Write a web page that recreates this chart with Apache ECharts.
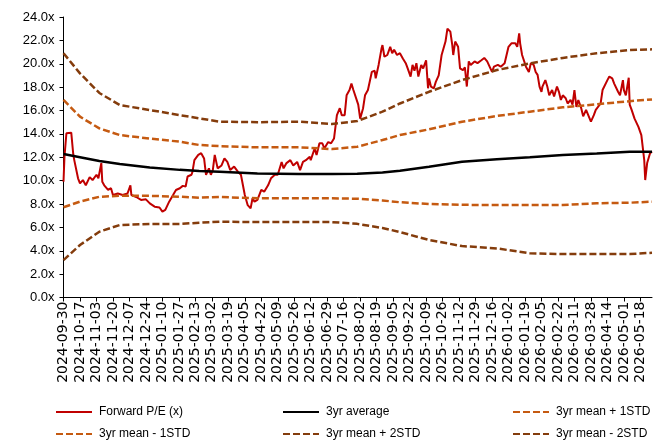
<!DOCTYPE html>
<html>
<head>
<meta charset="utf-8">
<script src="https://cdn.jsdelivr.net/npm/echarts@6/dist/echarts.min.js"></script>
<style>
  html, body { margin: 0; padding: 0; background: #fff; }
  #chart { width: 656px; height: 446px; }
</style>
</head>
<body>
<div id="chart"></div>
<script>
// x values are days counted from the first axis date
var startDate = "2024-09-30";

var tickLabels = [
  "2024-09-30", "2024-10-17", "2024-11-03", "2024-11-20", "2024-12-07", "2024-12-24",
  "2025-01-10", "2025-01-27", "2025-02-13", "2025-03-02", "2025-03-19", "2025-04-05",
  "2025-04-22", "2025-05-09", "2025-05-26", "2025-06-12", "2025-06-29", "2025-07-16",
  "2025-08-02", "2025-08-19", "2025-09-05", "2025-09-22", "2025-10-09", "2025-10-26",
  "2025-11-12", "2025-11-29", "2025-12-16", "2026-01-02", "2026-01-19", "2026-02-05",
  "2026-02-22", "2026-03-11", "2026-03-28", "2026-04-14", "2026-05-01", "2026-05-18"
];

var peDays = [
  0, 1, 3, 8, 10, 11, 13, 15, 17, 20,
  23, 27, 30, 34, 36, 39, 40, 42, 46, 49,
  51, 56, 61, 66, 69, 70, 75, 80, 85, 89,
  94, 99, 102, 105, 109, 113, 116, 120, 123, 126,
  128, 132, 133, 135, 139, 142, 145, 147, 150, 152,
  154, 156, 159, 163, 166, 169, 172, 176, 180, 183,
  187, 190, 193, 195, 197, 200, 204, 207, 211, 214,
  218, 221, 225, 227, 230, 234, 237, 241, 244, 247,
  250, 254, 255, 259, 261, 264, 267, 269, 273, 276,
  279, 282, 285, 287, 290, 292, 295, 297, 299, 301,
  304, 306, 309, 311, 314, 316, 318, 321, 322, 325,
  328, 329, 331, 334, 337, 339, 341, 344, 347, 350,
  353, 355, 358, 360, 362, 364, 366, 369, 371, 374,
  376, 377, 379, 382, 384, 387, 390, 392, 394, 396,
  399, 401, 402, 404, 407, 409, 412, 414, 416, 418,
  420, 424, 427, 431, 434, 437, 439, 442, 444, 448,
  451, 455, 457, 459, 462, 463, 466, 468, 470, 471,
  473, 475, 477, 480, 482, 485, 487, 489, 491, 493,
  494, 497, 499, 501, 504, 506, 509, 511, 513, 515,
  518, 520, 523, 525, 527, 529, 531, 534, 536, 539,
  541, 544, 547, 549, 551, 554, 556, 558, 561, 563,
  566, 568, 570, 572, 574, 577, 578, 580, 582, 583,
  584, 586, 589, 591, 593, 596, 597, 599, 600, 602,
  605, 607
];

var peValues = [
  9.9, 12.05, 14.05, 14.1, 12.3, 11.8, 11.8, 10.2, 9.77, 10.05,
  9.6, 10.3, 10.05, 10.5, 10.2, 11.5, 9.9, 9.6, 9.2, 9.35,
  8.77, 8.9, 8.77, 8.9, 9.6, 8.77, 8.6, 8.35, 8.4, 8.05,
  7.77, 7.7, 7.35, 7.5, 8.2, 8.77, 9.2, 9.35, 9.55, 9.5,
  10.35, 10.5, 10.75, 11.75, 12.2, 12.35, 11.9, 10.5, 11.05, 10.5,
  10.9, 12.2, 11.05, 11.3, 11.9, 11.6, 10.9, 11.2, 10.75, 10.5,
  8.77, 7.9, 7.63, 8.5, 8.2, 8.35, 9.2, 9.05, 9.6, 10.2,
  10.5, 10.5, 11.6, 11.05, 11.5, 11.75, 11.3, 11.6, 10.9, 11.6,
  11.75, 12.05, 11.75, 12.75, 12.2, 13.2, 13.2, 12.75, 13.3, 13.2,
  13.6, 15.6, 16.2, 15.6, 15.6, 17.3, 17.75, 18.3, 17.75, 17.6,
  16.5, 15.3, 16.2, 17.3, 17.75, 17.6, 19.3, 19.4, 18.75, 19.9,
  21.3, 21.6, 20.6, 20.75, 21.45, 20.9, 21.2, 20.75, 20.9, 20.45,
  20.05, 19.6, 18.9, 19.9, 19.4, 20.05, 18.9, 19.9, 19.6, 20.3,
  17.9, 18.75, 18.05, 17.9, 18.45, 19.0, 20.75, 20.9, 21.9, 23.0,
  22.75, 21.6, 20.75, 21.9, 21.45, 19.6, 19.45, 19.7, 18.05, 20.2,
  19.9, 20.2, 20.05, 20.3, 20.5, 20.2, 20.05, 19.3, 19.75, 19.9,
  19.75, 20.05, 19.9, 21.45, 21.75, 21.6, 21.75, 21.45, 22.6, 21.75,
  20.75, 20.9, 19.75, 19.3, 20.05, 19.9, 19.3, 19.05, 18.05, 17.6,
  18.05, 18.6, 18.05, 17.3, 17.75, 17.2, 18.05, 17.6, 16.9, 17.3,
  17.05, 16.6, 16.9, 16.5, 17.75, 16.3, 16.9, 16.2, 15.5, 16.05,
  15.9, 15.05, 15.6, 16.05, 16.2, 16.6, 17.75, 17.75, 18.6, 18.9,
  18.75, 18.3, 18.45, 17.6, 17.3, 18.6, 17.75, 17.3, 17.3, 18.8,
  16.5, 16.05, 15.3, 15.4, 14.6, 13.9, 13.75, 11.75, 10.05, 11.5,
  12.35, 12.5
];

var bandDays = [0, 17, 37, 58, 89, 120, 140, 161, 200, 243, 277, 303, 329, 347, 377, 411, 447, 481, 515, 550, 584, 607];
var avgValues   = [12.27, 12.0, 11.68, 11.42, 11.12, 10.92, 10.82, 10.76, 10.62, 10.57, 10.56, 10.58, 10.7, 10.85, 11.19, 11.62, 11.82, 12.0, 12.19, 12.33, 12.47, 12.47];
var plus1Values = [16.9, 15.47, 14.47, 13.9, 13.6, 13.33, 13.05, 12.95, 12.85, 12.85, 12.7, 12.9, 13.47, 13.9, 14.39, 15.04, 15.53, 15.9, 16.27, 16.53, 16.8, 16.95];
var minus1Values = [7.72, 8.2, 8.62, 8.7, 8.7, 8.62, 8.54, 8.6, 8.49, 8.49, 8.49, 8.45, 8.3, 8.15, 8.0, 7.93, 7.91, 7.91, 7.91, 8.06, 8.11, 8.2];
var plus2Values = [20.9, 19.18, 17.5, 16.47, 16.04, 15.6, 15.33, 15.04, 15.0, 15.04, 14.84, 15.1, 15.9, 16.6, 17.6, 18.6, 19.46, 20.03, 20.5, 20.9, 21.17, 21.23];
var minus2Values = [3.2, 4.49, 5.63, 6.2, 6.29, 6.29, 6.4, 6.49, 6.45, 6.45, 6.45, 6.3, 5.95, 5.6, 4.92, 4.4, 4.2, 3.78, 3.72, 3.72, 3.72, 3.83];

var yTicks = [0, 2, 4, 6, 8, 10, 12, 14, 16, 18, 20, 22, 24];

var DAY = 86400000;
var t0 = Date.parse(startDate);
var tickDays = tickLabels.map(function (s) { return Math.round((Date.parse(s) - t0) / DAY); });

function pairs(xs, ys) {
  return xs.map(function (x, i) { return [x, ys[i]]; });
}

var sans = "'Liberation Sans', Arial, sans-serif";
var red = "#C00000", orange = "#C55A11", brown = "#843C0C";

function bandSeries(name, values, color, dashed) {
  return {
    name: name,
    type: "line",
    data: pairs(bandDays, values),
    symbol: "none",
    showSymbol: false,
    silent: true,
    lineStyle: { color: color, width: 2.5, type: dashed ? [7, 3] : "solid" },
    itemStyle: { color: color }
  };
}

var myChart = echarts.init(document.getElementById("chart"));

function legendAt(name, left, top) {
  return {
    data: [name],
    left: left,
    top: top,
    itemWidth: 36,
    itemHeight: 12,
    padding: 0,
    selectedMode: false,
    itemStyle: { opacity: 0 },
    textStyle: { fontFamily: sans, fontSize: 12, color: "#000", padding: [0, 0, 0, 2] }
  };
}

var option = {
  animation: false,
  backgroundColor: "#fff",
  grid: { left: 63.5, right: 4, top: 17, bottom: 148.5 },
  legend: [
    legendAt("Forward P/E (x)", 55, 406),
    legendAt("3yr average", 282, 406),
    legendAt("3yr mean + 1STD", 512, 406),
    legendAt("3yr mean - 1STD", 55, 428),
    legendAt("3yr mean + 2STD", 282, 428),
    legendAt("3yr mean - 2STD", 512, 428)
  ],
  xAxis: {
    type: "value",
    min: 0,
    max: 607,
    interval: 17,
    splitLine: { show: false },
    axisLine: { lineStyle: { color: "#000", width: 1 } },
    axisTick: { length: 4, lineStyle: { color: "#000" }, customValues: tickDays },
    axisLabel: {
      rotate: 90,
      margin: 4,
      customValues: tickDays,
      fontFamily: "'DejaVu Sans', sans-serif",
      fontSize: 14,
      color: "#000",
      formatter: function (v) { return tickLabels[tickDays.indexOf(Math.round(v))] || ""; }
    }
  },
  yAxis: {
    type: "value",
    min: yTicks[0],
    max: yTicks[yTicks.length - 1],
    interval: yTicks[1] - yTicks[0],
    splitLine: { show: false },
    axisLine: { show: true, lineStyle: { color: "#000", width: 1 } },
    axisTick: { show: true, length: 4, lineStyle: { color: "#000" } },
    axisLabel: {
      margin: 9,
      fontFamily: sans,
      fontSize: 13,
      color: "#000",
      formatter: function (v) { return v.toFixed(1) + "x"; }
    }
  },
  series: [
    {
      name: "Forward P/E (x)",
      type: "line",
      data: pairs(peDays, peValues),
      symbol: "none",
      showSymbol: false,
      lineStyle: { color: red, width: 2 },
      itemStyle: { color: red }
    },
    bandSeries("3yr average", avgValues, "#000", false),
    bandSeries("3yr mean + 1STD", plus1Values, orange, true),
    bandSeries("3yr mean - 1STD", minus1Values, orange, true),
    bandSeries("3yr mean + 2STD", plus2Values, brown, true),
    bandSeries("3yr mean - 2STD", minus2Values, brown, true)
  ]
};

myChart.setOption(option);
</script>
</body>
</html>
